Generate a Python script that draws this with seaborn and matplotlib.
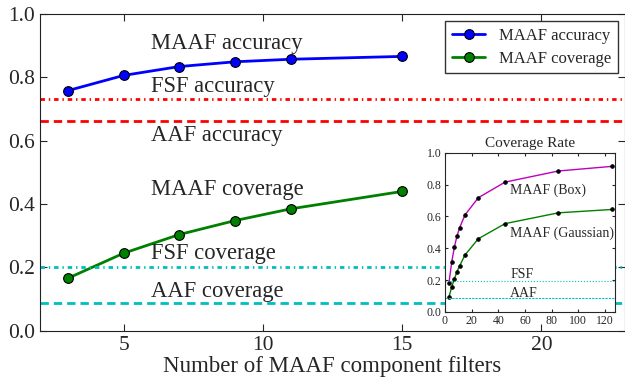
import matplotlib
matplotlib.use("Agg")
import matplotlib.pyplot as plt
import seaborn as sns
import pandas as pd

# main data
n_filters = [3, 5, 7, 9, 11, 15]
maaf_accuracy = [0.758, 0.806, 0.834, 0.849, 0.857, 0.866]
maaf_coverage = [0.166, 0.245, 0.304, 0.348, 0.385, 0.440]
fsf_accuracy = 0.732
aaf_accuracy = 0.663
fsf_coverage = 0.201
aaf_coverage = 0.089

# inset data
inset_n = [3, 5, 7, 9, 11, 15, 25, 45, 85, 125]
box_cov = [0.184, 0.311, 0.407, 0.477, 0.530, 0.610, 0.718, 0.816, 0.886, 0.915]
gauss_cov = [0.093, 0.157, 0.206, 0.254, 0.290, 0.358, 0.460, 0.555, 0.623, 0.644]
inset_fsf = 0.197
inset_aaf = 0.087

sns.set_style("ticks")
plt.rcParams['font.family'] = ['Liberation Serif', 'DejaVu Serif']
plt.rcParams['mathtext.fontset'] = 'stix'
plt.rcParams['xtick.direction'] = 'in'
plt.rcParams['ytick.direction'] = 'in'

fig = plt.figure(figsize=(6.25, 3.87), dpi=100)
ax = fig.add_axes([0.064, 0.145, 0.936, 0.819])

df = pd.DataFrame({"n": n_filters, "acc": maaf_accuracy, "cov": maaf_coverage})
sns.lineplot(data=df, x="n", y="acc", ax=ax, color="blue", lw=2, marker="o",
             markersize=7, markeredgecolor="black", markeredgewidth=0.8,
             label="MAAF accuracy")
sns.lineplot(data=df, x="n", y="cov", ax=ax, color="green", lw=2, marker="o",
             markersize=7, markeredgecolor="black", markeredgewidth=0.8,
             label="MAAF coverage")
ax.axhline(fsf_accuracy, color="red", lw=2, ls=(0, (1.6, 1.4, 0.5, 1.4)))
ax.axhline(aaf_accuracy, color="red", lw=2, ls=(0, (3, 1.8)))
ax.axhline(fsf_coverage, color="c", lw=2, ls=(0, (1.6, 1.4, 0.5, 1.4)))
ax.axhline(aaf_coverage, color="c", lw=2, ls=(0, (3, 1.8)))

ax.set_xlim(2, 23)
ax.set_ylim(0, 1.0)
ax.set_xticks([5, 10, 15, 20])
ax.set_yticks([0.0, 0.2, 0.4, 0.6, 0.8, 1.0])
ax.set_xlabel("Number of MAAF component filters", fontsize=16.5, labelpad=1)
ax.set_ylabel("")
ax.tick_params(axis="both", labelsize=15.5, top=True, right=True, length=5)
for s in ax.spines.values():
    s.set_color("#222222")

fs = 16.3
ax.text(6.0, 0.908, "MAAF accuracy", fontsize=fs, va="center")
ax.text(6.0, 0.772, "FSF accuracy", fontsize=fs, va="center")
ax.text(6.0, 0.618, "AAF accuracy", fontsize=fs, va="center")
ax.text(6.0, 0.445, "MAAF coverage", fontsize=fs, va="center")
ax.text(6.0, 0.243, "FSF coverage", fontsize=fs, va="center")
ax.text(6.0, 0.124, "AAF coverage", fontsize=fs, va="center")

leg = ax.legend(loc="upper right", fontsize=12, frameon=True, fancybox=False,
                edgecolor="black", handlelength=2.0, borderaxespad=0.45,
                borderpad=0.4, labelspacing=0.4)
leg.get_frame().set_linewidth(1.0)

# inset
ins = fig.add_axes([0.712, 0.194, 0.272, 0.411])
idf = pd.DataFrame({"n": inset_n, "box": box_cov, "gauss": gauss_cov})
sns.lineplot(data=idf, x="n", y="box", ax=ins, color="m", lw=1,
             marker="o", markersize=2.5, markerfacecolor="black",
             markeredgecolor="black")
sns.lineplot(data=idf, x="n", y="gauss", ax=ins, color="green", lw=1,
             marker="o", markersize=2.5, markerfacecolor="black",
             markeredgecolor="black")
ins.axhline(inset_fsf, color="c", lw=0.8, ls=":")
ins.axhline(inset_aaf, color="c", lw=0.8, ls=(0, (2, 1)))
ins.set_xlim(0, 127.5)
ins.set_ylim(0, 1.0)
ins.set_xticks([0, 20, 40, 60, 80, 100, 120])
ins.set_yticks([0.0, 0.2, 0.4, 0.6, 0.8, 1.0])
ins.tick_params(labelsize=8.5, length=2, top=True, right=True)
ins.tick_params(axis="x", pad=2.5)
ins.tick_params(axis="y", pad=2.5)
ins.set_xlabel("")
ins.set_ylabel("")
ins.set_title("Coverage Rate", fontsize=11, pad=4)
ifs = 10
ins.text(49, 0.767, "MAAF (Box)", fontsize=ifs, va="center")
ins.text(49, 0.496, "MAAF (Gaussian)", fontsize=ifs, va="center")
ins.text(49, 0.233, "FSF", fontsize=ifs, va="center")
ins.text(49, 0.117, "AAF", fontsize=ifs, va="center")

fig.savefig("out.png", dpi=100)
